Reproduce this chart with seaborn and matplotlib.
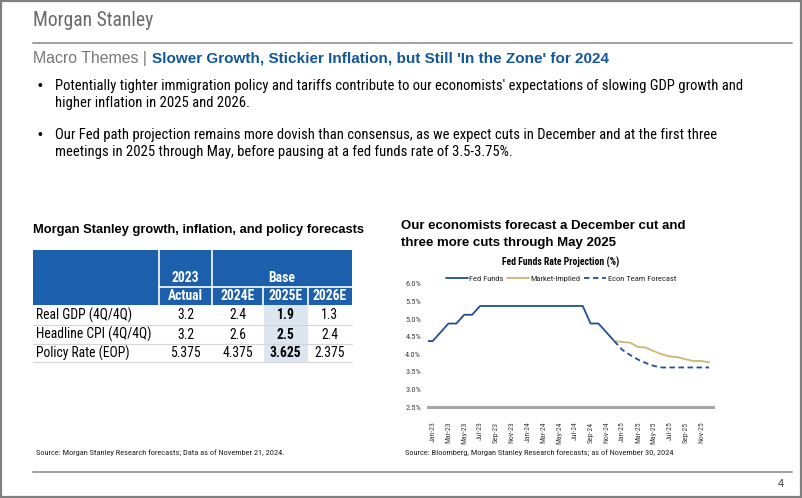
import numpy as np
import pandas as pd
import matplotlib
matplotlib.use("Agg")
import matplotlib.pyplot as plt
from matplotlib import font_manager as fm
from matplotlib.patches import Rectangle
from matplotlib.lines import Line2D
import seaborn as sns


# ---------------------------------------------------------------------------
# Data
# ---------------------------------------------------------------------------

months = [
    "Dec-22",
    "Jan-23", "Feb-23", "Mar-23", "Apr-23", "May-23", "Jun-23",
    "Jul-23", "Aug-23", "Sep-23", "Oct-23", "Nov-23", "Dec-23",
    "Jan-24", "Feb-24", "Mar-24", "Apr-24", "May-24", "Jun-24",
    "Jul-24", "Aug-24", "Sep-24", "Oct-24", "Nov-24", "Dec-24",
    "Jan-25", "Feb-25", "Mar-25", "Apr-25", "May-25", "Jun-25",
    "Jul-25", "Aug-25", "Sep-25", "Oct-25", "Nov-25", "Dec-25",
]
tick_months = [
    "Jan-23", "Mar-23", "May-23", "Jul-23", "Sep-23", "Nov-23",
    "Jan-24", "Mar-24", "May-24", "Jul-24", "Sep-24", "Nov-24",
    "Jan-25", "Mar-25", "May-25", "Jul-25", "Sep-25", "Nov-25",
]

# Dec-22 .. Dec-24
fed_funds = [
    4.375, 4.375, 4.625, 4.875, 4.875, 5.125, 5.125,
    5.375, 5.375, 5.375, 5.375, 5.375, 5.375,
    5.375, 5.375, 5.375, 5.375, 5.375, 5.375,
    5.375, 5.375, 4.875, 4.875, 4.625, 4.375,
]
# Dec-24 .. Dec-25
market_implied = [4.375, 4.35, 4.33, 4.21, 4.19, 4.09, 4.00,
                  3.94, 3.92, 3.86, 3.81, 3.81, 3.77]
econ_forecast = [4.375, 4.13, 3.98, 3.85, 3.75, 3.67, 3.625,
                 3.625, 3.625, 3.625, 3.625, 3.625, 3.625]

y_ticks = [2.5, 3.0, 3.5, 4.0, 4.5, 5.0, 5.5, 6.0]

# table
row_labels = ["Real GDP (4Q/4Q)", "Headline CPI (4Q/4Q)", "Policy Rate (EOP)"]
col_labels = ["Actual", "2024E", "2025E", "2026E"]
actual_2023 = ["3.2", "3.2", "5.375"]
base_2024 = ["2.4", "2.6", "4.375"]
base_2025 = ["1.9", "2.5", "3.625"]
base_2026 = ["1.3", "2.4", "2.375"]

bullets = [
    ["Potentially tighter immigration policy and tariffs contribute to our economists' expectations of slowing GDP growth and",
     "higher inflation in 2025 and 2026."],
    ["Our Fed path projection remains more dovish than consensus, as we expect cuts in December and at the first three",
     "meetings in 2025 through May, before pausing at a fed funds rate of 3.5-3.75%."],
]


# ---------------------------------------------------------------------------
# Style helpers
# ---------------------------------------------------------------------------

def pick(*names):
    avail = {f.name for f in fm.fontManager.ttflist}
    for n in names:
        if n in avail:
            return n
    return "DejaVu Sans"


def fit(t, width):
    """Scale a text's font size so it spans `width` pixels."""
    w = t.get_window_extent(fig.canvas.get_renderer()).width
    t.set_fontsize(t.get_fontsize() * width / w)
    return t.get_fontsize()


sns.set_theme(style="white")
SANS = pick("Liberation Sans", "Arial", "DejaVu Sans")
NARROW = pick("Liberation Sans Narrow", "Roboto Condensed", "Roboto", "Liberation Sans")
plt.rcParams["font.family"] = [SANS, "DejaVu Sans"]

BLUE = "#1F5096"
TAN = "#CBB774"
HDR = "#1C5FAD"

fig = plt.figure(figsize=(8.02, 4.98), dpi=100)
fig.patch.set_facecolor("white")

# page overlay in pixel coordinates
page = fig.add_axes([0, 0, 1, 1])
page.set_xlim(0, 802)
page.set_ylim(498, 0)
page.axis("off")

page.add_patch(Rectangle((0.8, 0.8), 800.4, 496.4, fill=False, ec="#808080", lw=1.6))
t = page.text(33, 20, "Morgan Stanley", fontsize=13, color="#6A6A6A", family=NARROW,
              va="center")
fit(t, 120)
page.plot([33, 792], [43, 43], color="#A0A0A0", lw=1.4)
t = page.text(33, 58, "Macro Themes |", fontsize=11.5, color="#777777", va="center")
fit(t, 114)
t = page.text(152, 58, "Slower Growth, Stickier Inflation, but Still 'In the Zone' for 2024",
              fontsize=11.5, color="#12569B", fontweight="bold", va="center")
fit(t, 458)

b_size = None
for (l1, l2), y0 in zip(bullets, [86, 135]):
    page.text(37, y0, "\u2022", fontsize=10, color="black", va="center")
    t1 = page.text(55, y0, l1, fontsize=10.5, color="black", family=NARROW, va="center")
    if b_size is None:
        b_size = fit(t1, 690)
    t1.set_fontsize(b_size)
    page.text(55, y0 + 16.5, l2, fontsize=b_size, color="black", family=NARROW, va="center")

# --- left: forecast table ---
t = page.text(33, 230, "Morgan Stanley growth, inflation, and policy forecasts",
              fontsize=9.2, fontweight="bold", color="black", va="center")
fit(t, 330)

xe = [33, 159, 212, 263, 308, 352]
page.add_patch(Rectangle((xe[0], 250), xe[-1] - xe[0], 54.5, color=HDR, lw=0))
page.plot([xe[1], xe[1]], [250, 304.5], color="white", lw=1.2)
page.plot([xe[2], xe[2]], [250, 304.5], color="white", lw=1.2)
page.plot([xe[1], xe[-1]], [287, 287], color="white", lw=1.2)
page.plot([xe[3], xe[3]], [287, 304.5], color="white", lw=1.2)
page.plot([xe[4], xe[4]], [287, 304.5], color="white", lw=1.2)
hdr_kw = dict(color="white", fontweight="bold", family=NARROW, fontsize=9.8,
              ha="center", va="center")
page.text((xe[1] + xe[2]) / 2, 277.5, "2023", **hdr_kw)
page.text((xe[2] + xe[-1]) / 2, 277.5, "Base", **hdr_kw)
for i, lab in enumerate(col_labels):
    page.text((xe[i + 1] + xe[i + 2]) / 2, 296, lab, **hdr_kw)

row_edges = [304.5, 325, 343.5, 362]
page.add_patch(Rectangle((xe[3] + 0.5, row_edges[0]), xe[4] - xe[3] - 1,
                         row_edges[-1] - row_edges[0], color="#DCE6F1", lw=0))
cols = [actual_2023, base_2024, base_2025, base_2026]
for r, lab in enumerate(row_labels):
    yc = (row_edges[r] + row_edges[r + 1]) / 2 + 0.5
    page.plot([xe[0], xe[-1]], [row_edges[r + 1], row_edges[r + 1]], color="#D5D5D5", lw=0.8)
    page.text(36, yc, lab, fontsize=9.8, family=NARROW, color="black", va="center")
    for c, vals in enumerate(cols):
        page.text((xe[c + 1] + xe[c + 2]) / 2, yc, vals[r], fontsize=9.8, family=NARROW,
                  color="black", ha="center", va="center",
                  fontweight="bold" if c == 2 else "normal")

# --- right: chart headings ---
t = page.text(401, 226, "Our economists forecast a December cut and", fontsize=9,
              fontweight="bold", color="black", va="center")
h_size = fit(t, 287)
page.text(401, 243, "three more cuts through May 2025", fontsize=h_size,
          fontweight="bold", color="black", va="center")
t = page.text(561, 262, "Fed Funds Rate Projection (%)", fontsize=7.2, fontweight="bold",
              family=NARROW, color="black", ha="center", va="center")
fit(t, 118)

# sources / footer
t = page.text(36, 453, "Source: Morgan Stanley Research forecasts; Data as of November 21, 2024.",
              fontsize=5.9, family=NARROW, color="#222222", va="center")
fit(t, 248)
t = page.text(405, 453, "Source: Bloomberg, Morgan Stanley Research forecasts; as of November 30, 2024",
              fontsize=6.0, family=NARROW, color="#222222", va="center")
fit(t, 269)
page.plot([33, 792], [472, 472], color="#A0A0A0", lw=1.4)
page.text(784, 484, "4", fontsize=8, color="#333333", va="center", ha="right")

# ---------------------------------------------------------------------------
# Line chart
# ---------------------------------------------------------------------------

pos = {m: i for i, m in enumerate(months)}
frames = []
for name, start, vals in [("Fed Funds", "Dec-22", fed_funds),
                          ("Market-Implied", "Dec-24", market_implied),
                          ("Econ Team Forecast", "Dec-24", econ_forecast)]:
    i0 = pos[start]
    frames.append(pd.DataFrame({"month": months[i0:i0 + len(vals)],
                                "rate": vals, "series": name}))
df = pd.concat(frames, ignore_index=True)
df["x"] = df["month"].map(pos)

palette = {"Fed Funds": BLUE, "Market-Implied": TAN, "Econ Team Forecast": "#1F4E9A"}
dashes = {"Fed Funds": "", "Market-Implied": "", "Econ Team Forecast": (3, 2)}

ax = fig.add_axes([428 / 802, 91 / 498, 285 / 802, 123 / 498])
ax.patch.set_alpha(0)
sns.lineplot(data=df, x="x", y="rate", hue="series", style="series",
             palette=palette, dashes=dashes, linewidth=1.3, ax=ax, legend=False)

ax.set_xlim(pos["Dec-22"] + 0.41, pos["Dec-25"] + 0.5)
ax.set_ylim(y_ticks[0], y_ticks[-1])
ax.set_yticks(y_ticks)
ax.set_yticklabels([f"{v:.1f}%" for v in y_ticks], fontsize=6.0, color="#404040", family=NARROW)
ax.set_xticks([pos[m] for m in tick_months])
ax.set_xticklabels(tick_months, rotation=90, fontsize=5.6, color="#404040", family=NARROW)
ax.tick_params(axis="x", length=0, pad=10.5)
ax.tick_params(axis="y", length=0, pad=5)
ax.set_xlabel("")
ax.set_ylabel("")
for s in ["top", "right", "left"]:
    ax.spines[s].set_visible(False)
ax.spines["bottom"].set_color("#A6A6A6")
ax.spines["bottom"].set_linewidth(2.2)
ax.grid(False)

handles = [Line2D([], [], color=BLUE, lw=1.3),
           Line2D([], [], color=TAN, lw=1.3),
           Line2D([], [], color="#1F4E9A", lw=1.3, ls=(0, (3, 2)))]
fig.legend(handles, ["Fed Funds", "Market-Implied", "Econ Team Forecast"],
           loc="center", bbox_to_anchor=(561 / 802, 1 - 279 / 498), ncol=3,
           frameon=False, handlelength=2.6, handletextpad=0.2, columnspacing=0.4,
           prop={"family": NARROW, "size": 6.1})

fig.savefig("out.png", dpi=100, facecolor="white")
